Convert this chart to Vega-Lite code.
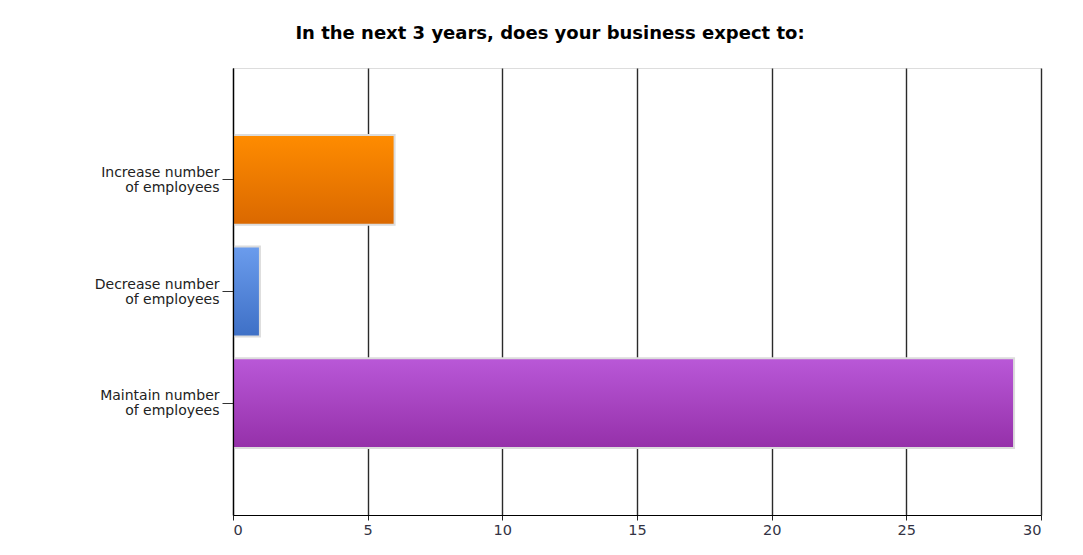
{
  "$schema": "https://vega.github.io/schema/vega-lite/v6.json",
  "width": 808,
  "height": 447,
  "autosize": {"type": "none"},
  "padding": {"left": 233, "top": 68, "right": 42, "bottom": 40},
  "background": "white",
  "title": {
    "text": "In the next 3 years, does your business expect to:",
    "font": "DejaVu Sans",
    "fontSize": 18,
    "fontWeight": "bold",
    "color": "#000000",
    "anchor": "middle",
    "dx": -87,
    "offset": 25
  },
  "data": {
    "values": [
      {"answer": "Increase number of employees", "count": 6},
      {"answer": "Decrease number of employees", "count": 1},
      {"answer": "Maintain number of employees", "count": 29}
    ]
  },
  "encoding": {
    "y": {
      "field": "answer",
      "type": "nominal",
      "sort": null,
      "scale": {
        "domain": ["Increase number of employees", "Decrease number of employees", "Maintain number of employees"],
        "paddingInner": 0.195,
        "paddingOuter": 0.6
      },
      "axis": {
        "title": null,
        "zindex": 1,
        "domainColor": "#000000",
        "domainWidth": 1.2,
        "tickColor": "#333333",
        "tickSize": 11,
        "tickWidth": 1,
        "labelPadding": 3,
        "labelOffset": -7,
        "labelFont": "DejaVu Sans",
        "labelFontSize": 14,
        "labelColor": "#222222",
        "labelLineHeight": 15,
        "labelExpr": "split(replace(datum.label, ' of ', '|of '), '|')"
      }
    },
    "x": {
      "field": "count",
      "type": "quantitative",
      "scale": {"domain": [0, 30], "nice": false},
      "axis": {
        "title": null,
        "values": [0, 5, 10, 15, 20, 25, 30],
        "grid": true,
        "gridColor": "#2a2a2a",
        "gridWidth": 1.4,
        "gridOpacity": 1,
        "domainColor": "#000000",
        "domainWidth": 1.2,
        "tickColor": "#222222",
        "tickSize": 5,
        "labelPadding": 3,
        "labelFont": "DejaVu Sans",
        "labelFontSize": 14.5,
        "labelColor": "#333344"
      }
    }
  },
  "layer": [
    {
      "transform": [{"filter": "datum.answer == 'Increase number of employees'"}],
      "mark": {
        "type": "bar",
        "stroke": "#dcdcdc",
        "strokeWidth": 2,
        "color": {
          "gradient": "linear", "x1": 0, "y1": 0, "x2": 0, "y2": 1,
          "stops": [{"offset": 0, "color": "#ff8c00"}, {"offset": 1, "color": "#da6800"}]
        }
      }
    },
    {
      "transform": [{"filter": "datum.answer == 'Decrease number of employees'"}],
      "mark": {
        "type": "bar",
        "stroke": "#dcdcdc",
        "strokeWidth": 2,
        "color": {
          "gradient": "linear", "x1": 0, "y1": 0, "x2": 0, "y2": 1,
          "stops": [{"offset": 0, "color": "#6b9ced"}, {"offset": 1, "color": "#3e70c6"}]
        }
      }
    },
    {
      "transform": [{"filter": "datum.answer == 'Maintain number of employees'"}],
      "mark": {
        "type": "bar",
        "stroke": "#dcdcdc",
        "strokeWidth": 2,
        "color": {
          "gradient": "linear", "x1": 0, "y1": 0, "x2": 0, "y2": 1,
          "stops": [{"offset": 0, "color": "#b958d8"}, {"offset": 1, "color": "#9530a9"}]
        }
      }
    }
  ]
}
